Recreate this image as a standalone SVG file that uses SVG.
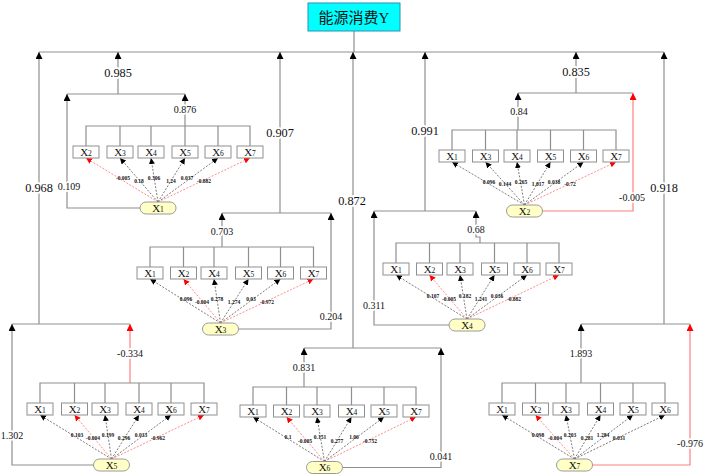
<svg xmlns="http://www.w3.org/2000/svg" width="705" height="476" viewBox="0 0 705 476">
<style>
.c{fill:none;stroke:#8f8f8f;stroke-width:1.2}
.cr{fill:none;stroke:#ff8080;stroke-width:1.2}
.d{fill:none;stroke:#444;stroke-width:0.7;stroke-dasharray:2 1.5}
.dr{fill:none;stroke:#ff5a5a;stroke-width:0.7;stroke-dasharray:2 1.5}
.bx{fill:#fff;stroke:#8f8f8f;stroke-width:1}
.ov{fill:#ffffc6;stroke:#9a9a9a;stroke-width:1}
.t{font-family:"Liberation Serif",serif;font-size:12.3px;text-anchor:middle;fill:#111;stroke:#fff;stroke-width:4;paint-order:stroke;stroke-linejoin:round}
.t2{font-family:"Liberation Serif",serif;font-size:10px;text-anchor:middle;fill:#111;stroke:#fff;stroke-width:3.5;paint-order:stroke;stroke-linejoin:round}
.bt{font-family:"Liberation Serif",serif;font-size:11px;text-anchor:middle;fill:#111}
.s{font-family:"Liberation Serif",serif;font-size:5.5px;font-weight:bold;text-anchor:middle;fill:#111}
.sub{font-size:7.5px}
</style>
<defs>
<marker id="ab" viewBox="0 0 10 10" refX="10" refY="5" markerUnits="userSpaceOnUse" markerWidth="7" markerHeight="7" orient="auto"><path d="M0,0L10,5L0,10z" fill="#000"/></marker>
<marker id="ar" viewBox="0 0 10 10" refX="10" refY="5" markerUnits="userSpaceOnUse" markerWidth="7" markerHeight="7" orient="auto"><path d="M0,0L10,5L0,10z" fill="#f00"/></marker>
<marker id="db" viewBox="0 0 10 10" refX="10" refY="5" markerUnits="userSpaceOnUse" markerWidth="6" markerHeight="6" orient="auto"><path d="M0,0L10,5L0,10z" fill="#000"/></marker>
<marker id="dr" viewBox="0 0 10 10" refX="10" refY="5" markerUnits="userSpaceOnUse" markerWidth="6" markerHeight="6" orient="auto"><path d="M0,0L10,5L0,10z" fill="#f00"/></marker>
</defs>

<g id="connectors">
<!-- top bus -->
<path class="c" d="M354,31V52M39,52H664"/>
<path class="c" d="M39,324V52" marker-end="url(#ab)"/>
<path class="c" d="M118,94V52" marker-end="url(#ab)"/>
<path class="c" d="M280,213V52" marker-end="url(#ab)"/>
<path class="c" d="M353,348V52" marker-end="url(#ab)"/>
<path class="c" d="M425,211V52" marker-end="url(#ab)"/>
<path class="c" d="M576,93V52" marker-end="url(#ab)"/>
<path class="c" d="M664,324V52" marker-end="url(#ab)"/>

<!-- panel X1 -->
<path class="c" d="M67,94H185"/>
<path class="c" d="M140,208H67V94" marker-end="url(#ab)"/>
<path class="c" d="M185,126V94" marker-end="url(#ab)"/>
<path class="c" d="M86,146V126H250V146M120,126V146M151,126V146M185,126V146M218,126V146"/>
<path class="dr" d="M158,202L86,158" marker-end="url(#dr)"/>
<path class="d" d="M158,202L120,158" marker-end="url(#db)"/>
<path class="d" d="M158,202L151,158" marker-end="url(#db)"/>
<path class="d" d="M158,202L185,158" marker-end="url(#db)"/>
<path class="d" d="M158,202L218,158" marker-end="url(#db)"/>
<path class="dr" d="M158,202L250,158" marker-end="url(#dr)"/>

<!-- panel X2 -->
<path class="c" d="M518,93H633"/>
<path class="c" d="M518,130V93" marker-end="url(#ab)"/>
<path class="cr" d="M542,211H633V93" marker-end="url(#ar)"/>
<path class="c" d="M452,150V130H616V150M485.5,130V150M517,130V150M550.5,130V150M583.5,130V150"/>
<path class="d" d="M524.5,205L452,162" marker-end="url(#db)"/>
<path class="d" d="M524.5,205L485.5,162" marker-end="url(#db)"/>
<path class="d" d="M524.5,205L517,162" marker-end="url(#db)"/>
<path class="d" d="M524.5,205L550.5,162" marker-end="url(#db)"/>
<path class="d" d="M524.5,205L583.5,162" marker-end="url(#db)"/>
<path class="dr" d="M524.5,205L616,162" marker-end="url(#dr)"/>

<!-- panel X3 -->
<path class="c" d="M222,213H331"/>
<path class="c" d="M222,247V213" marker-end="url(#ab)"/>
<path class="c" d="M238.5,329H331V213" marker-end="url(#ab)"/>
<path class="c" d="M150,267V247H313.5V267M183.5,247V267M214,247V267M248.5,247V267M280.5,247V267"/>
<path class="d" d="M220.5,323L150,279" marker-end="url(#db)"/>
<path class="dr" d="M220.5,323L183.5,279" marker-end="url(#dr)"/>
<path class="d" d="M220.5,323L214,279" marker-end="url(#db)"/>
<path class="d" d="M220.5,323L248.5,279" marker-end="url(#db)"/>
<path class="d" d="M220.5,323L280.5,279" marker-end="url(#db)"/>
<path class="dr" d="M220.5,323L313.5,279" marker-end="url(#dr)"/>

<!-- panel X4 -->
<path class="c" d="M374,211H476"/>
<path class="c" d="M449,325H374V211" marker-end="url(#ab)"/>
<path class="c" d="M480,243V237H476V211" marker-end="url(#ab)"/>
<path class="c" d="M396,263V243H559V263M429.5,243V263M460,243V263M494.5,243V263M527,243V263"/>
<path class="d" d="M467,319L396,275" marker-end="url(#db)"/>
<path class="dr" d="M467,319L429.5,275" marker-end="url(#dr)"/>
<path class="d" d="M467,319L460,275" marker-end="url(#db)"/>
<path class="d" d="M467,319L494.5,275" marker-end="url(#db)"/>
<path class="d" d="M467,319L527,275" marker-end="url(#db)"/>
<path class="dr" d="M467,319L559,275" marker-end="url(#dr)"/>

<!-- panel X5 -->
<path class="c" d="M12,324H130"/>
<path class="c" d="M94,465H12V324" marker-end="url(#ab)"/>
<path class="cr" d="M130,383V324" marker-end="url(#ar)"/>
<path class="c" d="M40,403V383H204V403M74.5,383V403M105,383V403M139,383V403M171,383V403"/>
<path class="d" d="M111.5,459L40,415" marker-end="url(#db)"/>
<path class="dr" d="M111.5,459L74.5,415" marker-end="url(#dr)"/>
<path class="d" d="M111.5,459L105,415" marker-end="url(#db)"/>
<path class="d" d="M111.5,459L139,415" marker-end="url(#db)"/>
<path class="d" d="M111.5,459L171,415" marker-end="url(#db)"/>
<path class="dr" d="M111.5,459L204,415" marker-end="url(#dr)"/>

<!-- panel X6 -->
<path class="c" d="M304,348H441"/>
<path class="c" d="M304,387V348" marker-end="url(#ab)"/>
<path class="c" d="M342.5,467.5H441V348" marker-end="url(#ab)"/>
<path class="c" d="M253,405V387H416V405M286.5,387V405M317,387V405M351.5,387V405M384,387V405"/>
<path class="d" d="M324.5,461.5L253,417" marker-end="url(#db)"/>
<path class="dr" d="M324.5,461.5L286.5,417" marker-end="url(#dr)"/>
<path class="d" d="M324.5,461.5L317,417" marker-end="url(#db)"/>
<path class="d" d="M324.5,461.5L351.5,417" marker-end="url(#db)"/>
<path class="d" d="M324.5,461.5L384,417" marker-end="url(#db)"/>
<path class="dr" d="M324.5,461.5L416,417" marker-end="url(#dr)"/>

<!-- panel X7 -->
<path class="c" d="M581,324H690"/>
<path class="c" d="M581,383V324" marker-end="url(#ab)"/>
<path class="cr" d="M592.5,465H690V324" marker-end="url(#ar)"/>
<path class="c" d="M502,403V383H665V403M535.5,383V403M566,383V403M600.5,383V403M633,383V403"/>
<path class="d" d="M574.5,459L502,415" marker-end="url(#db)"/>
<path class="dr" d="M574.5,459L535.5,415" marker-end="url(#dr)"/>
<path class="d" d="M574.5,459L566,415" marker-end="url(#db)"/>
<path class="d" d="M574.5,459L600.5,415" marker-end="url(#db)"/>
<path class="d" d="M574.5,459L633,415" marker-end="url(#db)"/>
<path class="d" d="M574.5,459L665,415" marker-end="url(#db)"/>

<!-- connector labels -->
<text class="t" x="39" y="192">0.968</text>
<text class="t" x="118" y="76.5">0.985</text>
<text class="t" x="280" y="137">0.907</text>
<text class="t" x="352" y="205">0.872</text>
<text class="t" x="425" y="135">0.991</text>
<text class="t" x="576" y="76">0.835</text>
<text class="t" x="664" y="192">0.918</text>
<text class="t2" x="185" y="113">0.876</text>
<text class="t2" x="69" y="189.5">0.109</text>
<text class="t2" x="519" y="114.5">0.84</text>
<text class="t2" x="632" y="200.5">-0.005</text>
<text class="t2" x="222" y="234.5">0.703</text>
<text class="t2" x="331" y="319.5">0.204</text>
<text class="t2" x="476" y="232.5">0.68</text>
<text class="t2" x="374" y="308.5">0.311</text>
<text class="t2" x="130" y="356.5">-0.334</text>
<text class="t2" x="12" y="438.5">1.302</text>
<text class="t2" x="304" y="370.5">0.831</text>
<text class="t2" x="441" y="459.5">0.041</text>
<text class="t2" x="581" y="356.5">1.893</text>
<text class="t2" x="690" y="446.5">-0.976</text>

<!-- small coefficient labels -->
<text class="s" x="123" y="180">-0.005</text><text class="s" x="139" y="183">0.18</text><text class="s" x="154" y="180">0.306</text><text class="s" x="171" y="183">1.24</text><text class="s" x="187" y="180">0.037</text><text class="s" x="204" y="183">-0.882</text>
<text class="s" x="489" y="184">0.096</text><text class="s" x="505" y="186">0.144</text><text class="s" x="521" y="184">0.265</text><text class="s" x="538" y="186">1.017</text><text class="s" x="554" y="184">0.038</text><text class="s" x="570" y="186">-0.72</text>
<text class="s" x="186" y="301">0.096</text><text class="s" x="202" y="304">-0.004</text><text class="s" x="217" y="301">0.278</text><text class="s" x="234" y="304">1.274</text><text class="s" x="251" y="301">0.03</text><text class="s" x="267" y="304">-0.972</text>
<text class="s" x="433" y="298">0.107</text><text class="s" x="449" y="301">-0.005</text><text class="s" x="465" y="298">0.182</text><text class="s" x="481" y="301">1.241</text><text class="s" x="497" y="298">0.036</text><text class="s" x="514" y="301">-0.882</text>
<text class="s" x="77" y="437">0.103</text><text class="s" x="93" y="440">-0.004</text><text class="s" x="108" y="437">0.199</text><text class="s" x="124" y="440">0.296</text><text class="s" x="141" y="437">0.033</text><text class="s" x="158" y="440">-0.962</text>
<text class="s" x="288" y="439">0.1</text><text class="s" x="305" y="443">-0.005</text><text class="s" x="320" y="439">0.151</text><text class="s" x="337" y="443">0.277</text><text class="s" x="354" y="439">1.06</text><text class="s" x="370" y="443">-0.752</text>
<text class="s" x="538" y="437">0.098</text><text class="s" x="555" y="440">-0.004</text><text class="s" x="570" y="437">0.203</text><text class="s" x="587" y="440">0.281</text><text class="s" x="603" y="437">1.284</text><text class="s" x="619" y="440">0.031</text>
</g>

<g id="Y">
<rect x="308" y="3" width="92" height="28" fill="#00ffff" stroke="#2a8fb0" stroke-width="1"/>
<text x="354" y="22.5" font-family="'Liberation Serif','Noto Sans CJK SC',serif" font-size="15" text-anchor="middle" fill="#111">能源消费Y</text>
</g>

<!-- panel X1 nodes -->
<g id="p1-X2"><rect class="bx" x="73" y="146" width="26" height="12"/><text class="bt" x="86" y="155.5">X<tspan class="sub">2</tspan></text></g>
<g id="p1-X3"><rect class="bx" x="107" y="146" width="26" height="12"/><text class="bt" x="120" y="155.5">X<tspan class="sub">3</tspan></text></g>
<g id="p1-X4"><rect class="bx" x="138" y="146" width="26" height="12"/><text class="bt" x="151" y="155.5">X<tspan class="sub">4</tspan></text></g>
<g id="p1-X5"><rect class="bx" x="172" y="146" width="26" height="12"/><text class="bt" x="185" y="155.5">X<tspan class="sub">5</tspan></text></g>
<g id="p1-X6"><rect class="bx" x="205" y="146" width="26" height="12"/><text class="bt" x="218" y="155.5">X<tspan class="sub">6</tspan></text></g>
<g id="p1-X7"><rect class="bx" x="237" y="146" width="26" height="12"/><text class="bt" x="250" y="155.5">X<tspan class="sub">7</tspan></text></g>
<g id="X1"><rect class="ov" x="140" y="202" width="36" height="12" rx="6"/><text class="bt" x="158" y="211.5">X<tspan class="sub">1</tspan></text></g>

<!-- panel X2 nodes -->
<g id="p2-X1"><rect class="bx" x="439" y="150" width="26" height="12"/><text class="bt" x="452" y="159.5">X<tspan class="sub">1</tspan></text></g>
<g id="p2-X3"><rect class="bx" x="472.5" y="150" width="26" height="12"/><text class="bt" x="485.5" y="159.5">X<tspan class="sub">3</tspan></text></g>
<g id="p2-X4"><rect class="bx" x="504" y="150" width="26" height="12"/><text class="bt" x="517" y="159.5">X<tspan class="sub">4</tspan></text></g>
<g id="p2-X5"><rect class="bx" x="537.5" y="150" width="26" height="12"/><text class="bt" x="550.5" y="159.5">X<tspan class="sub">5</tspan></text></g>
<g id="p2-X6"><rect class="bx" x="570.5" y="150" width="26" height="12"/><text class="bt" x="583.5" y="159.5">X<tspan class="sub">6</tspan></text></g>
<g id="p2-X7"><rect class="bx" x="603" y="150" width="26" height="12"/><text class="bt" x="616" y="159.5">X<tspan class="sub">7</tspan></text></g>
<g id="X2"><rect class="ov" x="506.5" y="205" width="36" height="12" rx="6"/><text class="bt" x="524.5" y="214.5">X<tspan class="sub">2</tspan></text></g>

<!-- panel X3 nodes -->
<g id="p3-X1"><rect class="bx" x="137" y="267" width="26" height="12"/><text class="bt" x="150" y="276.5">X<tspan class="sub">1</tspan></text></g>
<g id="p3-X2"><rect class="bx" x="170.5" y="267" width="26" height="12"/><text class="bt" x="183.5" y="276.5">X<tspan class="sub">2</tspan></text></g>
<g id="p3-X4"><rect class="bx" x="201" y="267" width="26" height="12"/><text class="bt" x="214" y="276.5">X<tspan class="sub">4</tspan></text></g>
<g id="p3-X5"><rect class="bx" x="235.5" y="267" width="26" height="12"/><text class="bt" x="248.5" y="276.5">X<tspan class="sub">5</tspan></text></g>
<g id="p3-X6"><rect class="bx" x="267.5" y="267" width="26" height="12"/><text class="bt" x="280.5" y="276.5">X<tspan class="sub">6</tspan></text></g>
<g id="p3-X7"><rect class="bx" x="300.5" y="267" width="26" height="12"/><text class="bt" x="313.5" y="276.5">X<tspan class="sub">7</tspan></text></g>
<g id="X3"><rect class="ov" x="202.5" y="323" width="36" height="12" rx="6"/><text class="bt" x="220.5" y="332.5">X<tspan class="sub">3</tspan></text></g>

<!-- panel X4 nodes -->
<g id="p4-X1"><rect class="bx" x="383" y="263" width="26" height="12"/><text class="bt" x="396" y="272.5">X<tspan class="sub">1</tspan></text></g>
<g id="p4-X2"><rect class="bx" x="416.5" y="263" width="26" height="12"/><text class="bt" x="429.5" y="272.5">X<tspan class="sub">2</tspan></text></g>
<g id="p4-X3"><rect class="bx" x="447" y="263" width="26" height="12"/><text class="bt" x="460" y="272.5">X<tspan class="sub">3</tspan></text></g>
<g id="p4-X5"><rect class="bx" x="481.5" y="263" width="26" height="12"/><text class="bt" x="494.5" y="272.5">X<tspan class="sub">5</tspan></text></g>
<g id="p4-X6"><rect class="bx" x="514" y="263" width="26" height="12"/><text class="bt" x="527" y="272.5">X<tspan class="sub">6</tspan></text></g>
<g id="p4-X7"><rect class="bx" x="546" y="263" width="26" height="12"/><text class="bt" x="559" y="272.5">X<tspan class="sub">7</tspan></text></g>
<g id="X4"><rect class="ov" x="449" y="319" width="36" height="12" rx="6"/><text class="bt" x="467" y="328.5">X<tspan class="sub">4</tspan></text></g>

<!-- panel X5 nodes -->
<g id="p5-X1"><rect class="bx" x="27" y="403" width="26" height="12"/><text class="bt" x="40" y="412.5">X<tspan class="sub">1</tspan></text></g>
<g id="p5-X2"><rect class="bx" x="61.5" y="403" width="26" height="12"/><text class="bt" x="74.5" y="412.5">X<tspan class="sub">2</tspan></text></g>
<g id="p5-X3"><rect class="bx" x="92" y="403" width="26" height="12"/><text class="bt" x="105" y="412.5">X<tspan class="sub">3</tspan></text></g>
<g id="p5-X4"><rect class="bx" x="126" y="403" width="26" height="12"/><text class="bt" x="139" y="412.5">X<tspan class="sub">4</tspan></text></g>
<g id="p5-X6"><rect class="bx" x="158" y="403" width="26" height="12"/><text class="bt" x="171" y="412.5">X<tspan class="sub">6</tspan></text></g>
<g id="p5-X7"><rect class="bx" x="191" y="403" width="26" height="12"/><text class="bt" x="204" y="412.5">X<tspan class="sub">7</tspan></text></g>
<g id="X5"><rect class="ov" x="93.5" y="459" width="36" height="12" rx="6"/><text class="bt" x="111.5" y="468.5">X<tspan class="sub">5</tspan></text></g>

<!-- panel X6 nodes -->
<g id="p6-X1"><rect class="bx" x="240" y="405" width="26" height="12"/><text class="bt" x="253" y="414.5">X<tspan class="sub">1</tspan></text></g>
<g id="p6-X2"><rect class="bx" x="273.5" y="405" width="26" height="12"/><text class="bt" x="286.5" y="414.5">X<tspan class="sub">2</tspan></text></g>
<g id="p6-X3"><rect class="bx" x="304" y="405" width="26" height="12"/><text class="bt" x="317" y="414.5">X<tspan class="sub">3</tspan></text></g>
<g id="p6-X4"><rect class="bx" x="338.5" y="405" width="26" height="12"/><text class="bt" x="351.5" y="414.5">X<tspan class="sub">4</tspan></text></g>
<g id="p6-X5"><rect class="bx" x="371" y="405" width="26" height="12"/><text class="bt" x="384" y="414.5">X<tspan class="sub">5</tspan></text></g>
<g id="p6-X7"><rect class="bx" x="403" y="405" width="26" height="12"/><text class="bt" x="416" y="414.5">X<tspan class="sub">7</tspan></text></g>
<g id="X6"><rect class="ov" x="306.5" y="461.5" width="36" height="12" rx="6"/><text class="bt" x="324.5" y="471">X<tspan class="sub">6</tspan></text></g>

<!-- panel X7 nodes -->
<g id="p7-X1"><rect class="bx" x="489" y="403" width="26" height="12"/><text class="bt" x="502" y="412.5">X<tspan class="sub">1</tspan></text></g>
<g id="p7-X2"><rect class="bx" x="522.5" y="403" width="26" height="12"/><text class="bt" x="535.5" y="412.5">X<tspan class="sub">2</tspan></text></g>
<g id="p7-X3"><rect class="bx" x="553" y="403" width="26" height="12"/><text class="bt" x="566" y="412.5">X<tspan class="sub">3</tspan></text></g>
<g id="p7-X4"><rect class="bx" x="587.5" y="403" width="26" height="12"/><text class="bt" x="600.5" y="412.5">X<tspan class="sub">4</tspan></text></g>
<g id="p7-X5"><rect class="bx" x="620" y="403" width="26" height="12"/><text class="bt" x="633" y="412.5">X<tspan class="sub">5</tspan></text></g>
<g id="p7-X6"><rect class="bx" x="652" y="403" width="26" height="12"/><text class="bt" x="665" y="412.5">X<tspan class="sub">6</tspan></text></g>
<g id="X7"><rect class="ov" x="556.5" y="459" width="36" height="12" rx="6"/><text class="bt" x="574.5" y="468.5">X<tspan class="sub">7</tspan></text></g>
</svg>
